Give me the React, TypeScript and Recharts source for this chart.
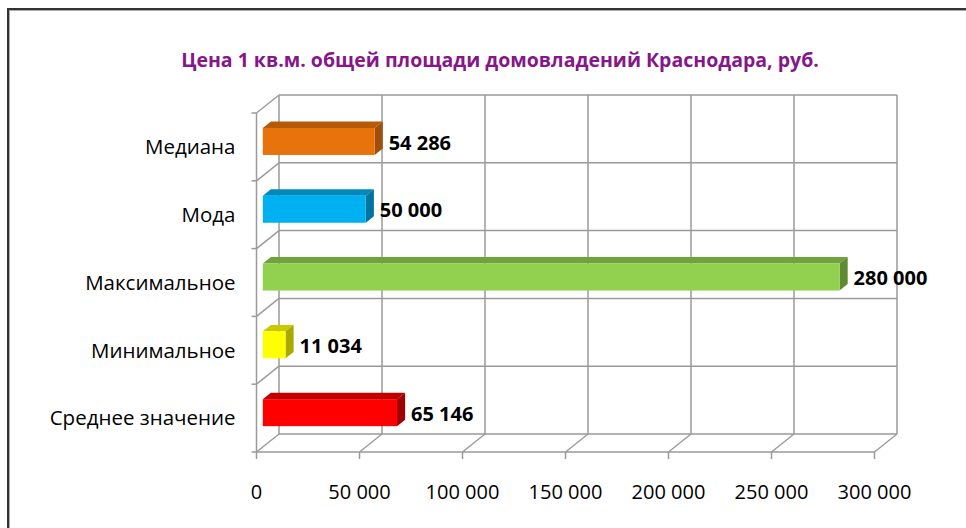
import { Bar, BarChart, CartesianGrid, Cell, LabelList, XAxis, YAxis } from "recharts";

const categories = ["Медиана", "Мода", "Максимальное", "Минимальное", "Среднее значение"];
const values = [54286, 50000, 280000, 11034, 65146];
const frontColors = ["#E8720C", "#00B0F0", "#92D050", "#FFFF00", "#FF0000"];
const topColors = ["#B65A0A", "#0089BC", "#71A33C", "#C9C900", "#C00000"];
const sideColors = ["#A04E08", "#0074A0", "#5F8B31", "#A9A900", "#A00000"];
const xTicks = [0, 50000, 100000, 150000, 200000, 250000, 300000];

const data = categories.map((name, i) => ({ name, value: values[i] }));

// floor depth of the fake 3d box
const DX = 22.5;
const DY = 18;
// bar sits between these fractions of the depth
const FRONT = 0.72;
const BACK = 0.36;

const GRID = "#9a9a9a";
const FONT = '"Open Sans", sans-serif';

const fmt = (v: number) => String(v).replace(/\B(?=(\d{3})+(?!\d))/g, " ");

function Bar3D(props: any) {
    const { x, y, width, height, index } = props;
    const i = index ?? categories.indexOf(props.payload?.name);
    const fx = x - DX * FRONT;
    const fy = y + DY * FRONT;
    const bx = x - DX * BACK;
    const by = y + DY * BACK;
    return (
        <g>
            <polygon
                points={`${fx},${fy} ${bx},${by} ${bx + width},${by} ${fx + width},${fy}`}
                fill={topColors[i]}
            />
            <polygon
                points={`${fx + width},${fy} ${bx + width},${by} ${bx + width},${by + height} ${fx + width},${fy + height}`}
                fill={sideColors[i]}
            />
            <rect x={fx} y={fy} width={width} height={height} fill={frontColors[i]} />
        </g>
    );
}

function ValueLabel(props: any) {
    const { x, y, width, height, value } = props;
    return (
        <text
            x={x + width - DX * FRONT + 14}
            y={y + height / 2 + DY * FRONT + 1}
            dy="0.36em"
            fontFamily={FONT}
            fontSize={20}
            fontWeight="bold"
            fill="#000"
        >
            {fmt(value)}
        </text>
    );
}

function YTick(props: any) {
    const { x, y, payload, index, height } = props;
    const band = (height ?? 339) / categories.length;
    const top = y - band / 2;
    const fx = x - DX;
    return (
        <g>
            <line x1={x} y1={top} x2={fx} y2={top + DY} stroke={GRID} strokeWidth={1.5} />
            <line x1={fx} y1={top + DY} x2={fx} y2={top + DY + band} stroke={GRID} strokeWidth={1.5} />
            <line x1={fx - 5} y1={top + DY} x2={fx} y2={top + DY} stroke={GRID} strokeWidth={1.5} />
            {index === categories.length - 1 && (
                <line x1={fx - 5} y1={top + DY + band} x2={fx} y2={top + DY + band} stroke={GRID} strokeWidth={1.5} />
            )}
            <text
                x={fx - 21}
                y={y + DY}
                dy="0.36em"
                textAnchor="end"
                fontFamily={FONT}
                fontSize={20.5}
                fill="#000"
            >
                {payload.value}
            </text>
        </g>
    );
}

function XTick(props: any) {
    const { x, y, payload, index, width } = props;
    const step = (width ?? 618) / (xTicks.length - 1);
    const fx = x - DX;
    const fy = y + DY;
    return (
        <g>
            <line x1={x} y1={y} x2={fx} y2={fy} stroke={GRID} strokeWidth={1.5} />
            <line x1={fx} y1={fy} x2={fx} y2={fy + 7} stroke={GRID} strokeWidth={1.5} />
            {index < xTicks.length - 1 && (
                <line x1={fx} y1={fy} x2={fx + step} y2={fy} stroke={GRID} strokeWidth={1.5} />
            )}
            <text
                x={fx}
                y={fy + 40}
                dy="0.36em"
                textAnchor="middle"
                fontFamily={FONT}
                fontSize={20}
                fill="#000"
            >
                {fmt(payload.value)}
            </text>
        </g>
    );
}

export default function App() {
    return (
        <div
            style={{
                position: "absolute",
                left: 0,
                top: 0,
                width: 966,
                height: 528,
                overflow: "hidden",
                background: "#fff",
                fontFamily: FONT,
            }}
        >
            <div
                style={{
                    position: "absolute",
                    left: 7,
                    top: 8,
                    right: -10,
                    bottom: -10,
                    borderTop: "2px solid #333",
                    borderLeft: "2px solid #333",
                    boxShadow: "inset 1px 1px 0 #aaa",
                }}
            />
            <div
                style={{
                    position: "absolute",
                    left: 17,
                    top: 46,
                    width: 966,
                    textAlign: "center",
                    fontSize: 19.5,
                    fontWeight: "bold",
                    color: "#86168A",
                }}
            >
                Цена 1 кв.м. общей площади домовладений Краснодара, руб.
            </div>
            <div style={{ position: "absolute", left: 0, top: 0 }}>
                <BarChart
                    width={966}
                    height={528}
                    data={data}
                    layout="vertical"
                    margin={{ top: 95, right: 69, bottom: 0, left: 19 }}
                >
                    <CartesianGrid
                        stroke={GRID}
                        strokeWidth={1.5}
                        horizontalCoordinatesGenerator={({ offset }: any) =>
                            categories.map((_, i) => offset.top + (i * offset.height) / categories.length).concat(offset.top + offset.height)
                        }
                    />
                    <XAxis
                        type="number"
                        domain={[0, 300000]}
                        ticks={xTicks}
                        interval={0}
                        height={94}
                        axisLine={false}
                        tickLine={false}
                        tickSize={0}
                        tickMargin={0}
                        tick={<XTick />}
                    />
                    <YAxis
                        type="category"
                        dataKey="name"
                        width={260}
                        axisLine={false}
                        tickLine={false}
                        tickSize={0}
                        tickMargin={0}
                        tick={<YTick />}
                    />
                    <Bar dataKey="value" barSize={27} shape={<Bar3D />} isAnimationActive={false}>
                        {data.map((d, i) => (
                            <Cell key={d.name} fill={frontColors[i]} />
                        ))}
                        <LabelList dataKey="value" content={<ValueLabel />} />
                    </Bar>
                </BarChart>
            </div>
        </div>
    );
}
